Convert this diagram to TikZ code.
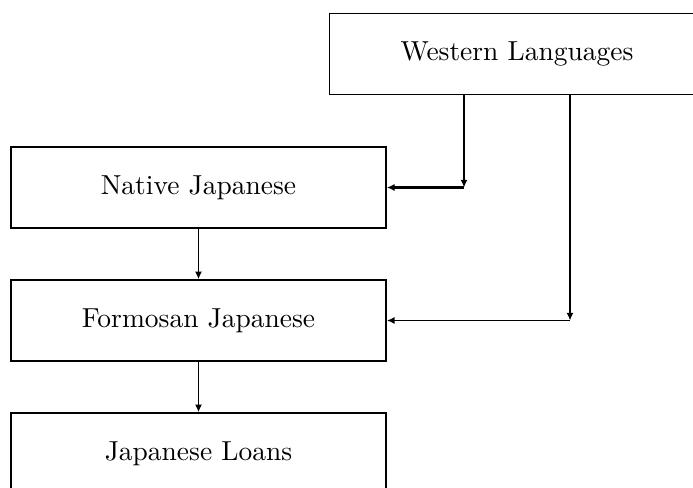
\documentclass[tikz,border=0pt]{standalone}
\usetikzlibrary{calc, arrows, positioning}
\usetikzlibrary{arrows.meta}
\tikzset{
  langbox/.style={draw, line width=0.6pt, rectangle, minimum width=136.4pt, minimum height=29.4pt, inner sep=0pt},
  flow/.style={line width=0.55pt, -{Latex[length=2.8pt,width=2.6pt]}}
}
\begin{document}
\begin{tikzpicture}[x=0.3636pt, y=-0.3636pt]
        \useasboundingbox (0,0) rectangle (693,488);
        \clip (0,0) rectangle (693,488);
        %方框
        \node [langbox] (western) at (517,54) {Western Languages};
        \node [langbox] (native) at (198.5,187.5) {Native Japanese};
        \node [langbox] (formosan) at (198.5,320.5) {Formosan Japanese};
        \node [langbox] (loans) at (198.5,453.5) {Japanese Loans};
        %轉折點
        \coordinate (w1) at (464,187.5);
        \coordinate (w2) at (570,320.5);
        \draw [flow] (western.south -| w1) -- (w1);
        \draw [flow, line width=0.9pt] (w1) -- (native.east);
        \draw [flow] (western.south -| w2) -- (w2);
        \draw [flow] (w2) -- (formosan.east);
        \draw [flow] (native) -- (formosan);
        \draw [flow] (formosan) -- (loans);
\end{tikzpicture}
\end{document}
